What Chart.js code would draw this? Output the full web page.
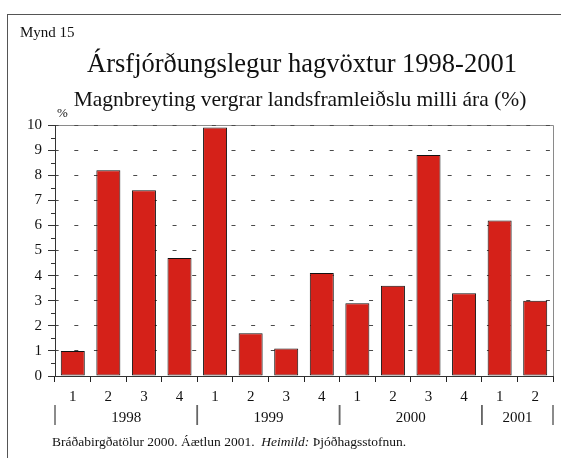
<!DOCTYPE html>
<html>
<head>
<meta charset="utf-8">
<title>Mynd 15</title>
<script src="https://cdn.jsdelivr.net/npm/chart.js@4.4.1/dist/chart.umd.min.js"></script>
<style>
  body { margin: 0; background: #fff; }
  #wrap { position: relative; width: 561px; height: 458px; overflow: hidden; font-family: "Liberation Serif", "Times New Roman", serif; color: #111; }
  #frame { position: absolute; left: 7px; top: 14px; right: -2px; bottom: -2px; border-left: 1px solid #555; border-top: 1px solid #555; }
  .txt { position: absolute; white-space: nowrap; line-height: 1; }
  canvas { position: absolute; left: 0; top: 0; }
</style>
</head>
<body>
<div id="wrap">
  <div id="frame"></div>
  <canvas id="chart" width="561" height="458"></canvas>
  <div class="txt" style="left:20px; top:25px; font-size:15px;">Mynd 15</div>
  <div class="txt" style="left:0; width:604px; text-align:center; top:50px; font-size:26.5px;">Ársfjórðungslegur hagvöxtur 1998-2001</div>
  <div class="txt" style="left:0; width:600px; text-align:center; top:89px; font-size:21.5px;">Magnbreyting vergrar landsframleiðslu milli ára (%)</div>
  <div class="txt" style="left:57px; top:106px; font-size:13px;">%</div>
  <div class="txt" style="left:52px; top:435px; font-size:13.5px;">Bráðabirgðatölur 2000. Áætlun 2001.&nbsp; <i>Heimild:</i> Þjóðhagsstofnun.</div>
</div>
<script>
'use strict';

// chart data
const quarterLabels = ['1', '2', '3', '4', '1', '2', '3', '4', '1', '2', '3', '4', '1', '2'];
const years = ['1998', '1999', '2000', '2001'];
const quartersPerYear = [4, 4, 4, 2];
const growth = [1.0, 8.2, 7.4, 4.7, 9.9, 1.7, 1.1, 4.1, 2.9, 3.6, 8.8, 3.3, 6.2, 3.0];
const yMin = 0;
const yMax = 10;
const yStep = 1;

const serif = '"Liberation Serif", "Times New Roman", serif';

// grey box round the plot area, and the small half-step ticks on the y axis
const plotFrame = {
  id: 'plotFrame',
  beforeDraw(chart) {
    const ctx = chart.ctx;
    const a = chart.chartArea;
    ctx.save();
    ctx.strokeStyle = '#8a8a8a';
    ctx.lineWidth = 1;
    ctx.beginPath();
    ctx.moveTo(a.left, Math.round(a.top) + 0.5);
    ctx.lineTo(Math.round(a.right) + 0.5, Math.round(a.top) + 0.5);
    ctx.lineTo(Math.round(a.right) + 0.5, a.bottom);
    ctx.stroke();
    ctx.restore();
  },
  afterDraw(chart) {
    const ctx = chart.ctx;
    const y = chart.scales.y;
    ctx.save();
    ctx.strokeStyle = '#333';
    ctx.lineWidth = 1;
    ctx.beginPath();
    for (let v = yMin + yStep / 2; v < yMax; v += yStep) {
      const py = Math.round(y.getPixelForValue(v)) + 0.5;
      ctx.moveTo(y.right - 4, py);
      ctx.lineTo(y.right, py);
    }
    ctx.stroke();
    ctx.restore();
  }
};

// year row under the quarter labels, with the separators
const yearAxis = {
  id: 'yearAxis',
  afterDraw(chart) {
    const ctx = chart.ctx;
    const x = chart.scales.x;
    const top = x.top;
    ctx.save();
    ctx.font = '15px ' + serif;
    ctx.fillStyle = '#111';
    ctx.textAlign = 'center';
    ctx.textBaseline = 'alphabetic';
    ctx.strokeStyle = '#666';
    ctx.lineWidth = 1.5;
    let start = 0;
    for (let i = 0; i < years.length; i++) {
      const end = start + quartersPerYear[i] - 1;
      const left = x.getPixelForValue(start - 0.5);
      const right = x.getPixelForValue(end + 0.5);
      ctx.beginPath();
      ctx.moveTo(left, top + 29);
      ctx.lineTo(left, top + 49);
      ctx.moveTo(right, top + 29);
      ctx.lineTo(right, top + 49);
      ctx.stroke();
      ctx.fillText(years[i], (left + right) / 2, top + 45.5);
      start = end + 1;
    }
    ctx.restore();
  }
};

const config = {
  type: 'bar',
  data: {
    labels: quarterLabels,
    datasets: [{
      data: growth,
      backgroundColor: '#d52119',
      borderColor: '#111',
      borderWidth: 1,
      borderSkipped: false,
      barPercentage: 0.675,
      categoryPercentage: 1
    }]
  },
  options: {
    responsive: false,
    animation: false,
    layout: {
      padding: { left: 0, top: 125, right: 8, bottom: 52 }
    },
    plugins: {
      legend: { display: false },
      tooltip: { enabled: false }
    },
    scales: {
      x: {
        grid: { drawOnChartArea: false, tickLength: 6, tickColor: '#222' },
        border: { color: '#333', width: 1 },
        ticks: {
          font: { family: serif, size: 15 },
          color: '#111',
          padding: 6,
          autoSkip: false,
          maxRotation: 0
        },
        afterFit(scale) {
          scale.height = 30;
        }
      },
      y: {
        min: yMin,
        max: yMax,
        ticks: {
          stepSize: yStep,
          font: { family: serif, size: 15 },
          color: '#111',
          padding: 6
        },
        grid: { color: '#4a4a4a', tickLength: 7, tickColor: '#333' },
        border: { color: '#333', width: 1, dash: [4, 15.65], dashOffset: 1.35 },
        afterFit(scale) {
          scale.width = 55;
        }
      }
    }
  },
  plugins: [plotFrame, yearAxis]
};

const myChart = new Chart(document.getElementById('chart'), config);
</script>
</body>
</html>
